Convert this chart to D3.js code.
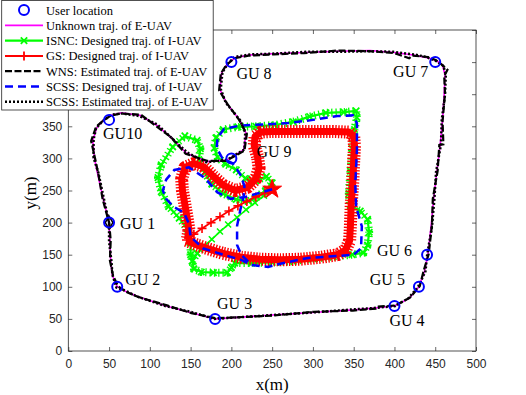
<!DOCTYPE html>
<html>
<head>
<meta charset="utf-8">
<script src="https://cdn.jsdelivr.net/npm/d3@7"></script>
<style>
  body { margin: 0; background: #fff; }
  text { font-family: "Liberation Serif", "Times New Roman", serif; }
  .tick text { font-family: "Liberation Sans", Arial, sans-serif; }
</style>
</head>
<body>
<div id="chart"></div>
<script>
// ground users
var guNames = ["GU 1", "GU 2", "GU 3", "GU 4", "GU 5", "GU 6", "GU 7", "GU 8", "GU 9", "GU10"];
var guX = [50, 60, 180, 400, 430, 440, 450, 200, 200, 50];
var guY = [200, 100, 50, 70, 100, 150, 450, 450, 300, 360];

// unknown (true) trajectory of E-UAV
var euavTrue = [[50,200],[51,170],[52,140],[54,118],[60,100],[70,93],[85,85],[120,70],[150,60],[180,50],
  [250,56],[300,60],[350,64],[376,67],[400,70],[418,82],[430,100],[437,125],[441,150],[445,195],[448,236],
  [452,280],[456,320],[459,360],[461,400],[462,430],[459,445],[452,452],[440,457],[423,461],[400,465],
  [370,468],[330,467],[290,465],[250,463],[222,461],[205,457],[195,447],[188,433],[186,407],[194,386],
  [210,360],[218,339],[215,313],[194,297],[170,295],[145,308],[125,334],[108,352],[88,367],[65,371],
  [52,367],[42,358],[35,348],[30,328],[32,300],[36,276],[43,236],[50,200]];

// WNS estimate of E-UAV
var wnsEst = [[50,201],[52,172],[51,141],[55,117],[61,101],[71,92],[86,84],[121,71],[151,59],[181,51],
  [249,55],[301,61],[349,63],[377,66],[379,69],[401,71],[419,83],[431,101],[436,126],[442,151],[446,196],
  [447,237],[453,281],[455,321],[460,322],[459,358],[462,401],[461,428],[465,438],[458,446],[451,453],
  [441,458],[422,460],[418,456],[400,464],[369,467],[331,468],[289,464],[252,462],[221,460],[204,456],
  [194,446],[187,432],[185,406],[195,385],[209,361],[219,338],[216,312],[193,296],[171,296],[144,307],
  [126,333],[107,351],[89,368],[64,370],[51,366],[41,357],[34,349],[28,327],[33,299],[37,275],[42,237],[50,200]];

// SCSS estimate of E-UAV
var scssEst = [[50,199],[50,170],[53,139],[54,119],[59,99],[70,94],[84,85],[119,70],[150,61],[179,50],
  [251,56],[299,60],[351,65],[375,67],[401,70],[417,82],[429,100],[438,124],[440,149],[446,194],[449,237],
  [451,279],[457,321],[458,360],[462,399],[463,431],[460,444],[452,451],[439,458],[424,462],[399,466],
  [371,467],[329,466],[291,466],[249,463],[223,462],[204,458],[196,448],[189,434],[187,408],[193,387],
  [211,359],[217,340],[216,314],[195,298],[169,294],[146,309],[124,335],[109,353],[87,366],[66,370],
  [53,368],[43,359],[34,347],[31,329],[31,301],[37,277],[44,235],[50,200]];

// ISNC designed I-UAV trajectory
var isncApproach = [[250,252],[240,242],[229,231],[218,220],[207,208],[196,197],[186,186],[176,174],[166,163]];
var isncLoop = [[166,163],[158,152],[152,140],[154,128],[163,123],[178,122],[195,122],[200,130],[204,137],
  [225,137],[250,138],[275,140],[300,144],[325,147],[348,150],[362,153],[367,165],[369,185],[367,205],
  [358,218],[346,226],[344,245],[346,280],[348,315],[351,345],[354,364],[353,374],[338,372],[316,371],
  [296,365],[276,357],[253,352],[230,350],[208,349],[190,345],[181,332],[179,316],[183,302],[193,291],
  [206,282],[218,268],[230,265],[243,272],[250,262],[242,250],[231,240],[221,233],[206,236],[190,245],
  [176,260],[167,278],[160,298],[162,315],[158,328],[143,335],[128,318],[114,290],[110,270],[114,248],
  [123,225],[136,207],[146,190],[150,170],[150,150],[152,140]];

// GS designed I-UAV trajectory
var gsApproach = [[251,252],[241,246],[230,240],[219,233],[208,226],[197,218],[186,209],[175,200],[164,191],[154,182],[145,173]];
var gsLoop = [[145,172],[158,165],[172,159],[190,152],[212,146],[235,143],[260,142],[285,143],[310,146],
  [330,150],[340,157],[345,172],[346,195],[347,230],[349,265],[350,295],[351,320],[350,335],[344,341],
  [325,342],[300,342],[275,342],[250,342],[236,341],[229,334],[228,320],[232,303],[234,285],[230,268],
  [220,255],[205,250],[190,258],[178,272],[166,287],[154,292],[143,286],[139,268],[140,250],[143,228],
  [146,205],[148,188],[146,174]];

// SCSS designed I-UAV trajectory
var scssDesign = [[250,252],[234,246],[217,240],[199,237],[183,247],[167,270],[148,286],[130,282],[120,267],
  [116,250],[120,237],[129,225],[142,215],[148,198],[150,178],[165,160],[190,150],[212,142],[225,134],
  [245,131],[260,136],[294,145],[330,148],[350,150],[359,160],[360,194],[353,225],[352,260],[354,313],
  [354,355],[349,367],[330,366],[300,360],[270,355],[240,353],[210,351],[191,346],[183,332],[182,316],
  [189,300],[202,292],[211,275],[216,257],[215,240],[211,220],[207,195],[207,165],[212,150],[225,134]];

var startPoint = [250, 252];

var xTicks = [0, 50, 100, 150, 200, 250, 300, 350, 400, 450, 500];
var yTicks = [0, 50, 100, 150, 200, 250, 300, 350, 400, 450, 500];
// y labels above 350 sit under the legend box
var yTickShown = [0, 50, 100, 150, 200, 250, 300, 350];

var legendLabels = ["User location", "Unknown traj. of E-UAV", "ISNC: Designed traj. of I-UAV",
  "GS: Designed traj. of I-UAV", "WNS: Estimated traj. of E-UAV", "SCSS: Designed traj. of I-UAV",
  "SCSS: Estimated traj. of E-UAV"];

// ---- layout ----
var W = 526, H = 395;
var margin = {top: 30, right: 50, bottom: 44, left: 68.3},
    width = 476 - margin.left,
    height = 351 - margin.top;

var svg = d3.select("#chart")
  .append("svg")
    .attr("width", W)
    .attr("height", H);

var g = svg.append("g")
    .attr("transform", "translate(" + margin.left + "," + margin.top + ")");

var x = d3.scaleLinear().domain([0, 500]).range([0, width]);
var y = d3.scaleLinear().domain([0, 500]).range([height, 0]);

var axisColor = "#262626";

g.append("g")
  .attr("transform", "translate(0," + height + ")")
  .call(d3.axisBottom(x).tickValues(xTicks).tickSizeInner(-4).tickSizeOuter(0).tickPadding(8))
  .call(function(a) { a.select(".domain").remove(); });
g.append("g")
  .call(d3.axisLeft(y).tickValues(yTicks).tickSizeInner(-4).tickSizeOuter(0).tickPadding(6)
    .tickFormat(function(d) { return yTickShown.indexOf(d) >= 0 ? d : ""; }))
  .call(function(a) { a.select(".domain").remove(); });
g.append("g")
  .call(d3.axisTop(x).tickValues(xTicks).tickSizeInner(-4).tickSizeOuter(0).tickFormat(""))
  .call(function(a) { a.select(".domain").remove(); });
g.append("g")
  .attr("transform", "translate(" + width + ",0)")
  .call(d3.axisRight(y).tickValues(yTicks).tickSizeInner(-4).tickSizeOuter(0).tickFormat(""))
  .call(function(a) { a.select(".domain").remove(); });

g.selectAll(".tick line").attr("stroke", axisColor).attr("stroke-width", 0.7);
g.selectAll(".tick text").attr("fill", axisColor).style("font-size", "12px");
g.selectAll(".tick text").filter(function() { return this.textContent === ""; }).remove();

g.append("rect")
  .attr("width", width).attr("height", height)
  .attr("fill", "none").attr("stroke", axisColor).attr("stroke-width", 0.8);

// axis labels
svg.append("text")
  .attr("x", margin.left + width / 2).attr("y", 390)
  .attr("text-anchor", "middle")
  .style("font-size", "17px")
  .text("x(m)");
svg.append("text")
  .attr("transform", "translate(36,193) rotate(-90)")
  .attr("text-anchor", "middle")
  .style("font-size", "17px")
  .text("y(m)");

var line = d3.line()
  .x(function(d) { return x(d[0]); })
  .y(function(d) { return y(d[1]); });

function plusPath(s) {
  return "M" + (-s) + ",0L" + s + ",0M0," + (-s) + "L0," + s;
}
function crossPath(s) {
  return "M" + (-s) + "," + (-s) + "L" + s + "," + s + "M" + (-s) + "," + s + "L" + s + "," + (-s);
}
function markers(data, pathStr, color, sw) {
  g.append("g")
    .selectAll("path")
    .data(data)
    .enter()
    .append("path")
      .attr("d", pathStr)
      .attr("transform", function(d) { return "translate(" + x(d[0]) + "," + y(d[1]) + ")"; })
      .attr("fill", "none")
      .attr("stroke", color)
      .attr("stroke-width", sw);
}

var plot = g.append("g");

// ISNC (green)
plot.append("path").datum(isncLoop).attr("d", line)
  .attr("fill", "none").attr("stroke", "#00ff00").attr("stroke-width", 8)
  .attr("stroke-dasharray", "1.3,3").attr("stroke-linejoin", "round");
plot.append("path").datum(isncLoop).attr("d", line)
  .attr("fill", "none").attr("stroke", "#00ff00").attr("stroke-width", 2.2);
plot.append("path").datum(isncApproach).attr("d", line)
  .attr("fill", "none").attr("stroke", "#00ff00").attr("stroke-width", 1.6);
markers(isncLoop, crossPath(3.2), "#00ff00", 1.8);
markers(isncApproach, crossPath(3), "#00ff00", 1.5);

// GS (red)
plot = g.append("g");
plot.append("path").datum(gsLoop).attr("d", line)
  .attr("fill", "none").attr("stroke", "#ff0000").attr("stroke-width", 7)
  .attr("stroke-linejoin", "round");
plot.append("path").datum(gsLoop).attr("d", line)
  .attr("fill", "none").attr("stroke", "#ff0000").attr("stroke-width", 13)
  .attr("stroke-dasharray", "1.4,1.6").attr("stroke-linejoin", "round");
plot.append("path").datum(gsApproach).attr("d", line)
  .attr("fill", "none").attr("stroke", "#ff0000").attr("stroke-width", 1.8);
markers(gsApproach, plusPath(4.5), "#ff0000", 1.6);

// start star
g.append("path")
  .attr("d", d3.symbol().type(d3.symbolStar).size(110)())
  .attr("transform", "translate(" + x(startPoint[0]) + "," + y(startPoint[1]) + ")")
  .attr("fill", "#ff0000").attr("stroke", "#ff0000");

// SCSS designed (blue dashed)
g.append("path").datum(scssDesign).attr("d", line)
  .attr("fill", "none").attr("stroke", "#0000ff").attr("stroke-width", 2.5)
  .attr("stroke-dasharray", "8,5");

// E-UAV trajectories
g.append("path").datum(euavTrue).attr("d", line)
  .attr("fill", "none").attr("stroke", "#ff00ff").attr("stroke-width", 1.6);
g.append("path").datum(wnsEst).attr("d", line)
  .attr("fill", "none").attr("stroke", "#000").attr("stroke-width", 2.2)
  .attr("stroke-dasharray", "7,2.5");
g.append("path").datum(scssEst).attr("d", line)
  .attr("fill", "none").attr("stroke", "#000").attr("stroke-width", 2.5)
  .attr("stroke-dasharray", "2,2");

// start diamond at GU1
g.append("path")
  .attr("d", d3.symbol().type(d3.symbolDiamond).size(50)())
  .attr("transform", "translate(" + x(guX[0]) + "," + y(guY[0]) + ")")
  .attr("fill", "none").attr("stroke", "#000").attr("stroke-width", 1.5);

// ground users
var guIdx = d3.range(guNames.length);
g.append("g")
  .selectAll("circle")
  .data(guIdx)
  .enter()
  .append("circle")
    .attr("cx", function(i) { return x(guX[i]); })
    .attr("cy", function(i) { return y(guY[i]); })
    .attr("r", 5)
    .attr("fill", "none")
    .attr("stroke", "#0000ff")
    .attr("stroke-width", 2);

// label placement relative to the user marker (pixels)
var labelDx = [11, 8, 2, -5, -14, -15, -7, 5, 25, -6];
var labelDy = [6, -2, -10, 20, -2, 1, 15, 17, -1, 19];
var labelAnchor = ["start", "start", "start", "start", "end", "end", "end", "start", "start", "start"];

g.append("g")
  .selectAll("text")
  .data(guIdx)
  .enter()
  .append("text")
    .attr("x", function(i) { return x(guX[i]) + labelDx[i]; })
    .attr("y", function(i) { return y(guY[i]) + labelDy[i]; })
    .attr("text-anchor", function(i) { return labelAnchor[i]; })
    .style("font-size", "16px")
    .text(function(i) { return guNames[i]; });

// ---- legend ----
var leg = svg.append("g");
leg.append("rect")
  .attr("x", 1.7).attr("y", 0.5).attr("width", 211.5).attr("height", 109.5)
  .attr("fill", "#fff").attr("stroke", axisColor).attr("stroke-width", 0.8);

var rowY = function(i) { return 10 + i * 15.3; };
var x0 = 5, x1 = 43, xm = 24;

leg.append("circle").attr("cx", xm).attr("cy", rowY(0)).attr("r", 5)
  .attr("fill", "none").attr("stroke", "#0000ff").attr("stroke-width", 2);

function legLine(i, color, w, dash) {
  leg.append("line")
    .attr("x1", x0).attr("x2", x1).attr("y1", rowY(i)).attr("y2", rowY(i))
    .attr("stroke", color).attr("stroke-width", w)
    .attr("stroke-dasharray", dash || null);
}
legLine(1, "#ff00ff", 1.8);
legLine(2, "#00ff00", 2.2);
leg.append("path").attr("d", crossPath(3.2))
  .attr("transform", "translate(" + xm + "," + rowY(2) + ")")
  .attr("stroke", "#00ff00").attr("stroke-width", 1.8).attr("fill", "none");
legLine(3, "#ff0000", 2);
leg.append("path").attr("d", plusPath(4.5))
  .attr("transform", "translate(" + xm + "," + rowY(3) + ")")
  .attr("stroke", "#ff0000").attr("stroke-width", 1.8).attr("fill", "none");
legLine(4, "#000", 2.2, "7,2.5");
legLine(5, "#0000ff", 2.5, "8,5");
legLine(6, "#000", 2.5, "2,2");

leg.selectAll("text.lbl")
  .data(legendLabels)
  .enter()
  .append("text")
    .attr("class", "lbl")
    .attr("x", 46)
    .attr("y", function(d, i) { return rowY(i) + 4.5; })
    .style("font-size", "12.5px")
    .text(function(d) { return d; });
</script>
</body>
</html>
